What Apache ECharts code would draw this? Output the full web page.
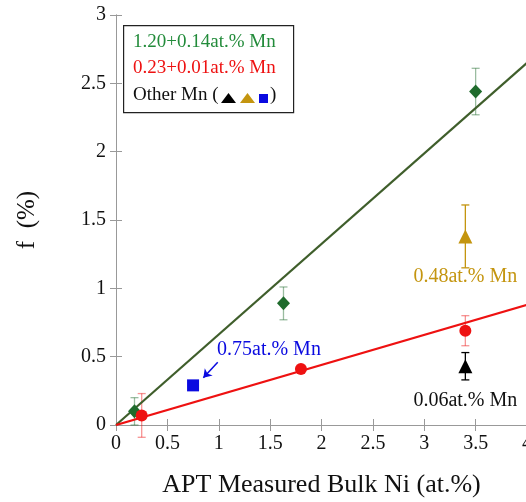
<!DOCTYPE html>
<html><head><meta charset="utf-8">
<script src="https://cdn.jsdelivr.net/npm/echarts@6/dist/echarts.min.js"></script>
<style>html,body{margin:0;padding:0;background:#fff}#c{width:526px;height:502px}</style>
</head><body><div id="c"></div>
<script>
// data [x, y, err]
const mn120 = [[0.18, 0.10, 0.10], [1.63, 0.89, 0.12], [3.50, 2.44, 0.17]];
const mn023 = [[0.25, 0.07, 0.16], [1.80, 0.41, 0.00], [3.40, 0.69, 0.11]];
const mn006 = [[3.40, 0.43, 0.10]];
const mn048 = [[3.40, 1.38, 0.23]];
const mn075 = [[0.75, 0.29, 0.00]];
const fitGreen = [[0, 0], [4, 2.65]];
const fitRed = [[0, 0], [4, 0.88]];
const xTicks = [0, 0.5, 1, 1.5, 2, 2.5, 3, 3.5, 4];
const yTicks = [0, 0.5, 1, 1.5, 2, 2.5, 3];

const FONT = '"Liberation Serif", "Times New Roman", serif';
const cGreenPt = '#1f6b2c', cGreenLine = '#3f5e2b', cRed = '#ee1111', cBlack = '#000000', cGold = '#c4950f', cBlue = '#0a0ae0';

function errSeries(data, color, opacity) {
  return {
    type: 'custom', data: data, z: 1, silent: true,
    renderItem: function (params, api) {
      const x = api.value(0), y = api.value(1), e = api.value(2);
      if (!e) return null;
      const top = api.coord([x, y + e]), bot = api.coord([x, y - e]);
      const w = 4;
      const st = { stroke: color, lineWidth: 1.3, opacity: opacity };
      return { type: 'group', children: [
        { type: 'line', shape: { x1: top[0], y1: top[1], x2: bot[0], y2: bot[1] }, style: st },
        { type: 'line', shape: { x1: top[0] - w, y1: top[1], x2: top[0] + w, y2: top[1] }, style: st },
        { type: 'line', shape: { x1: bot[0] - w, y1: bot[1], x2: bot[0] + w, y2: bot[1] }, style: st }
      ]};
    }
  };
}

const chart = echarts.init(document.getElementById('c'), null, { renderer: 'canvas' });
const axisCommon = {
  type: 'value', splitLine: { show: false },
  axisLine: { show: true, lineStyle: { color: '#999', width: 1 } },
  axisTick: { show: true, inside: true, length: 6, lineStyle: { color: '#999' } }
};
chart.setOption({
  animation: false,
  grid: { left: 116, right: -1, top: 15, bottom: 77, containLabel: false, outerBoundsMode: 'none' },
  xAxis: [
    Object.assign({}, axisCommon, { min: 0, max: 4, interval: 0.5, position: 'bottom',
      name: 'APT Measured Bulk Ni (at.%)', nameLocation: 'middle', nameGap: 47,
      nameTextStyle: { fontFamily: FONT, fontSize: 26, color: '#111' },
      axisLabel: { fontFamily: FONT, fontSize: 20, color: '#111', margin: 9, hideOverlap: false,
        formatter: v => xTicks.indexOf(v) >= 0 ? String(v) : '' } }),
    Object.assign({}, axisCommon, { min: 0, max: 4, interval: 0.5, position: 'top', axisLabel: { show: false } })
  ],
  yAxis: [
    Object.assign({}, axisCommon, { min: 0, max: 3, interval: 0.5, position: 'left',
      name: 'f  (%)', nameLocation: 'middle', nameGap: 76, nameRotate: 90,
      nameTextStyle: { fontFamily: FONT, fontSize: 25, color: '#111' },
      axisLabel: { fontFamily: FONT, fontSize: 20, color: '#111', margin: 10, hideOverlap: false,
        formatter: v => yTicks.indexOf(v) >= 0 ? String(v) : '' } }),
    Object.assign({}, axisCommon, { min: 0, max: 3, interval: 0.5, position: 'right', axisLabel: { show: false } })
  ],
  series: [
    { type: 'line', data: fitGreen, symbol: 'none', lineStyle: { color: cGreenLine, width: 2.2 }, z: 2, silent: true },
    { type: 'line', data: fitRed, symbol: 'none', lineStyle: { color: cRed, width: 2.2 }, z: 2, silent: true },
    errSeries(mn120, cGreenPt, 0.45),
    errSeries(mn023, cRed, 0.45),
    errSeries(mn006, cBlack, 1),
    errSeries(mn048, cGold, 1),
    { type: 'scatter', data: mn120, symbol: 'diamond', symbolSize: [13, 14], itemStyle: { color: cGreenPt, opacity: 1 }, z: 3 },
    { type: 'scatter', data: mn023, symbol: 'circle', symbolSize: 12, itemStyle: { color: cRed, opacity: 1 }, z: 3 },
    { type: 'scatter', data: mn006, symbol: 'triangle', symbolSize: 14, itemStyle: { color: cBlack, opacity: 1 }, z: 3,
      label: { show: true, position: 'bottom', distance: 18, formatter: '0.06at.% Mn', fontFamily: FONT, fontSize: 20, color: '#111' } },
    { type: 'scatter', data: mn048, symbol: 'triangle', symbolSize: 14, itemStyle: { color: cGold, opacity: 1 }, z: 3,
      label: { show: true, position: 'bottom', distance: 23, formatter: '0.48at.% Mn', fontFamily: FONT, fontSize: 20, color: cGold } },
    { type: 'scatter', data: mn075, symbol: 'rect', symbolSize: 12, itemStyle: { color: cBlue, opacity: 1 }, z: 3,
      markLine: { silent: true, symbol: ['none', 'arrow'], symbolSize: 8,
        lineStyle: { color: cBlue, width: 1.5, type: 'solid' },
        label: { show: false },
        data: [[{ coord: [0.99, 0.46] }, { coord: [0.85, 0.345] }]] } }
  ],
  graphic: [
    { type: 'rect', left: 123, top: 25, shape: { width: 170, height: 87 },
      style: { fill: '#fff', stroke: '#222', lineWidth: 1.2 }, z: 10 },
    { type: 'text', left: 133, top: 33, z: 11, style: { text: '1.20+0.14at.% Mn', font: '19px ' + FONT, fill: '#228b3a' } },
    { type: 'text', left: 133, top: 59, z: 11, style: { text: '0.23+0.01at.% Mn', font: '19px ' + FONT, fill: '#ee1111' } },
    { type: 'text', left: 133, top: 86, z: 11, style: { text: 'Other Mn (', font: '19px ' + FONT, fill: '#111' } },
    { type: 'polygon', z: 11, shape: { points: [[221, 103], [236, 103], [228.5, 93]] }, style: { fill: '#000' } },
    { type: 'polygon', z: 11, shape: { points: [[240, 103], [255, 103], [247.5, 93]] }, style: { fill: cGold } },
    { type: 'rect', z: 11, shape: { x: 259, y: 94, width: 9, height: 9 }, style: { fill: cBlue } },
    { type: 'text', left: 270, top: 86, z: 11, style: { text: ')', font: '19px ' + FONT, fill: '#111' } },
    { type: 'text', left: 217, top: 340, z: 11, style: { text: '0.75at.% Mn', font: '20px ' + FONT, fill: cBlue } }
  ]
});
</script></body></html>
